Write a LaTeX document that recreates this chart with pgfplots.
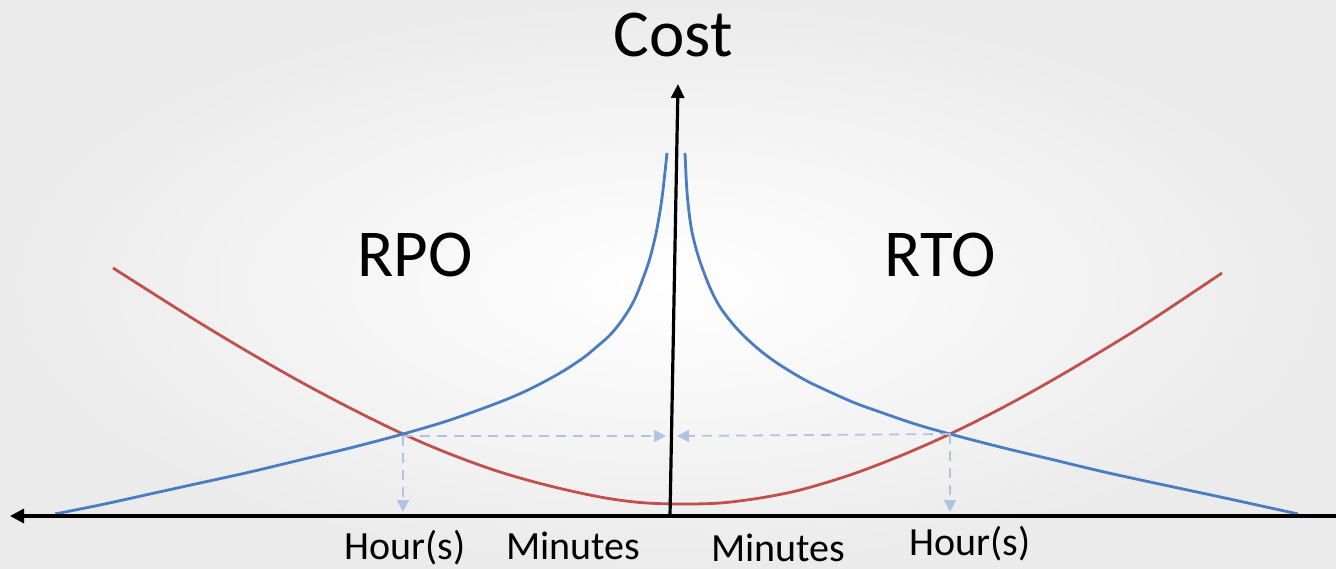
\documentclass[border=0pt]{standalone}
\usepackage{pgfplots}
\pgfplotsset{compat=1.18}
\usetikzlibrary{arrows.meta}
\usepackage{fontspec}
\setmainfont{Carlito}
\definecolor{cblue}{HTML}{4A7CC2}
\definecolor{cred}{HTML}{C0504D}
\definecolor{cdash}{HTML}{B0C3E3}
\definecolor{bgedge}{HTML}{EBEBEB}
\begin{document}
\begin{tikzpicture}
\begin{axis}[
  scale only axis, width=1336pt, height=569pt,
  xmin=0, xmax=1336, ymin=0, ymax=569, y dir=reverse,
  hide axis, clip=true,
]
\shade[inner color=white, outer color=bgedge] (axis cs:0,0) rectangle (axis cs:1336,569);
% red cost curve
\addplot[cred, line width=2.8pt, smooth, tension=0.55] coordinates {
 (113,268) (150,291.5) (200,323) (250,353) (300,381.5) (350,408) (403,434)
 (450,454) (500,472) (550,486) (600,497) (640,502.5) (680,504) (720,503)
 (760,498) (800,490) (850,475) (900,456) (950,434) (1000,409) (1050,381.5)
 (1100,352) (1150,321) (1222,273)};
% blue left (RPO)
\addplot[cblue, line width=2.8pt, smooth, tension=0.55] coordinates {
 (55,514) (100,505) (150,494) (200,483) (250,472) (300,460) (350,448)
 (403,434) (450,420) (500,402) (530,389) (560,373) (583,358) (600,344)
 (610,335) (620,323) (630,308) (637,294) (645,273) (650,258) (655,238)
 (658,223) (661,205) (663,190) (665,172) (667,153)};
% blue right (RTO)
\addplot[cblue, line width=2.8pt, smooth, tension=0.55] coordinates {
 (685,153) (686,175) (687,192) (689,212) (692,232) (697,252) (703,270)
 (711,290) (720,307) (732,323) (745,337) (762,352) (780,365) (805,380)
 (830,392) (855,403) (880,412) (915,424) (950,434) (1000,447) (1050,459)
 (1100,471) (1150,482) (1225,498) (1298,514)};
% dashed arrows
\addplot[cdash, line width=1.8pt, dash pattern=on 10pt off 7pt, -{Triangle[length=12pt,width=12pt]}] coordinates {(403,436) (666,436)};
\addplot[cdash, line width=1.8pt, dash pattern=on 10pt off 7pt, -{Triangle[length=12pt,width=12pt]}] coordinates {(950,434) (677,436)};
\addplot[cdash, line width=1.8pt, dash pattern=on 10pt off 7pt, -{Triangle[length=12pt,width=12pt]}] coordinates {(403,436) (403,512)};
\addplot[cdash, line width=1.8pt, dash pattern=on 10pt off 7pt, -{Triangle[length=12pt,width=12pt]}] coordinates {(950,434) (950,512)};
% axes
\addplot[black, line width=3.2pt, -{Triangle[length=14pt,width=14pt]}] coordinates {(1336,516) (10,516)};
\addplot[black, line width=3.2pt, -{Triangle[length=14pt,width=13pt]}] coordinates {(670,516) (678,84)};
% labels
\node[anchor=base, inner sep=0pt, font=\fontsize{67}{70}\selectfont] at (axis cs:673,57) {Cost};
\node[anchor=base, inner sep=0pt, font=\fontsize{67}{70}\selectfont] at (axis cs:415,277) {RPO};
\node[anchor=base, inner sep=0pt, font=\fontsize{67}{70}\selectfont] at (axis cs:940,277) {RTO};
\node[anchor=base, inner sep=0pt, font=\fontsize{40}{44}\selectfont] at (axis cs:405,559) {Hour(s)};
\node[anchor=base, inner sep=0pt, font=\fontsize{40}{44}\selectfont] at (axis cs:573,559) {Minutes};
\node[anchor=base, inner sep=0pt, font=\fontsize{40}{44}\selectfont] at (axis cs:778,561) {Minutes};
\node[anchor=base, inner sep=0pt, font=\fontsize{40}{44}\selectfont] at (axis cs:970,555) {Hour(s)};
\end{axis}
\pgfresetboundingbox
\useasboundingbox (current axis.south west) rectangle (current axis.north east);
\end{tikzpicture}
\end{document}
